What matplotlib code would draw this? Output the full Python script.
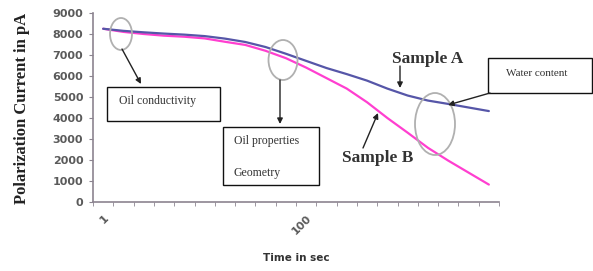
import matplotlib
matplotlib.use("Agg")
import matplotlib.pyplot as plt
from matplotlib.patches import Ellipse, Rectangle
import numpy as np

# ---- data (category axis, 20 time points) ----
categories = list(range(20))
tick_labels = {0: "1", 10: "100"}
sample_a = [8250, 8150, 8080, 8020, 7970, 7900, 7780, 7620, 7380, 7060,
            6720, 6380, 6090, 5780, 5400, 5070, 4830, 4670, 4500, 4330]
sample_b = [8250, 8100, 8000, 7920, 7870, 7790, 7630, 7480, 7200, 6850,
            6400, 5900, 5400, 4750, 4000, 3300, 2580, 1970, 1400, 830]
y_ticks = list(range(0, 9001, 1000))

W, H = 593, 271
fig = plt.figure(figsize=(W / 100, H / 100), dpi=100)
fig.patch.set_facecolor("white")

L, R, B, T = 93, 499, 202, 13
ax = fig.add_axes([L / W, (H - B) / H, (R - L) / W, (B - T) / H])

x = np.array(categories)
ax.plot(x, sample_b, color="#ff3fd0", lw=1.6, solid_capstyle="round", zorder=3)
ax.plot(x, sample_a, color="#5656a8", lw=1.6, solid_capstyle="round", zorder=4)

ax.set_xlim(-0.5, len(categories) - 0.5)
ax.set_ylim(0, 9000)

spine_col = "#8c8490"
for s in ["top", "right"]:
    ax.spines[s].set_visible(False)
for s in ["left", "bottom"]:
    ax.spines[s].set_color(spine_col)
    ax.spines[s].set_linewidth(1.2)

ax.set_yticks(y_ticks)
ax.set_yticklabels([str(v) for v in y_ticks], fontsize=8, fontweight="bold",
                   color="#5a5a5a")
ax.tick_params(axis="y", direction="out", length=3, color=spine_col, pad=4)

ax.set_xticks(list(tick_labels.keys()))
ax.set_xticklabels(list(tick_labels.values()), rotation=45, ha="right",
                   rotation_mode="anchor", fontsize=8, fontweight="bold",
                   color="#5a5a5a")
ax.tick_params(axis="x", which="major", length=0, pad=8)
ax.set_xticks(np.arange(-0.5, len(categories), 1.0), minor=True)
ax.tick_params(axis="x", which="minor", direction="out", length=3, color=spine_col)

fig.text(22 / W, 1 - 108 / H, "Polarization Current in pA", rotation=90,
         ha="center", va="center", family="Liberation Serif", fontsize=12,
         fontweight="bold", color="#222222")
fig.text(296 / W, 1 - 258 / H, "Time in sec", ha="center", va="center",
         fontsize=7.5, fontweight="bold", color="#333333")


def fp(px, py):
    return (px / W, 1 - py / H)


def ellipse(cx, cy, w, h):
    fig.patches.append(Ellipse(fp(cx, cy), w / W, h / H, transform=fig.transFigure,
                               fill=False, edgecolor="#b0b0b0", lw=1.3, zorder=5))


def box(x0, y0, x1, y1):
    fig.patches.append(Rectangle((x0 / W, 1 - y1 / H), (x1 - x0) / W, (y1 - y0) / H,
                                 transform=fig.transFigure, fill=True,
                                 facecolor="white", edgecolor="#111111", lw=1.0,
                                 zorder=5))


def arrow(x0, y0, x1, y1):
    fig.add_artist(plt.Annotation("", xy=fp(x1, y1), xytext=fp(x0, y0),
                                  xycoords="figure fraction",
                                  textcoords="figure fraction",
                                  arrowprops=dict(arrowstyle="-|>", color="#222222",
                                                  lw=1.0, mutation_scale=8,
                                                  shrinkA=0, shrinkB=0),
                                  zorder=6))


def label(px, py, s, **kw):
    t = fig.text(*fp(px, py), s, zorder=10, **kw)
    return t


serif = "Liberation Serif"

# Oil conductivity
ellipse(121, 34, 22, 32)
arrow(122, 49, 141, 84)
box(107, 87, 220, 121)
label(119, 101, "Oil conductivity", family=serif, fontsize=8.5,
      color="#333333", va="center", ha="left")

# Oil properties / Geometry
ellipse(283, 60, 29, 40)
arrow(280, 80, 280, 124)
box(223, 127, 319, 185)
label(234, 141, "Oil properties", family=serif, fontsize=8.5,
      color="#333333", va="center", ha="left")
label(234, 173, "Geometry", family=serif, fontsize=8.5,
      color="#333333", va="center", ha="left")

# Sample A / Sample B
label(428, 59, "Sample A", family=serif, fontsize=12.5, fontweight="bold",
      color="#333333", ha="center", va="center")
arrow(400, 66, 400, 88)
label(378, 158, "Sample B", family=serif, fontsize=12.5, fontweight="bold",
      color="#333333", ha="center", va="center")
arrow(363, 148, 378, 113)

# Water content
ellipse(435, 124, 40, 62)
box(488, 58, 592, 93)
label(537, 73, "Water content", family=serif, fontsize=8,
      color="#333333", ha="center", va="center")
arrow(490, 93, 448, 105)

fig.savefig("out.png", dpi=100, facecolor="white")
